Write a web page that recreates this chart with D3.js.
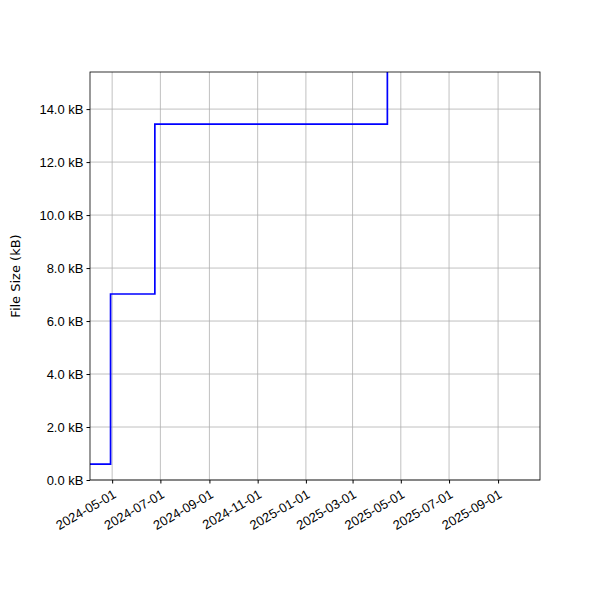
<!DOCTYPE html>
<html><head><meta charset="utf-8">
<script src="https://cdn.jsdelivr.net/npm/d3@7"></script>
<style>body{margin:0;background:#fff}svg{font-family:"DejaVu Sans",sans-serif}</style>
</head><body><svg id="c" width="600" height="600"></svg>
<script>
const dates = ["2024-04-03","2024-04-29","2024-06-24","2025-04-13","2025-04-14"];
const sizes = [0.6, 7.02, 13.43, 13.43, 20];
const tickDates = ["2024-05-01","2024-07-01","2024-09-01","2024-11-01","2025-01-01","2025-03-01","2025-05-01","2025-07-01","2025-09-01"];
const yTicks = [0,2,4,6,8,10,12,14];
const xDomain = ["2024-04-03","2025-10-24"];
const yMax = 15.4;

const p = d3.timeParse("%Y-%m-%d");
const m = {l:90, r:540, t:72, b:480};
const svg = d3.select("#c");
const x = d3.scaleTime().domain(xDomain.map(p)).range([m.l, m.r]);
const y = d3.scaleLinear().domain([0, yMax]).range([m.b, m.t]);

svg.append("g").selectAll("line").data(tickDates).join("line")
  .attr("x1", d=>x(p(d))).attr("x2", d=>x(p(d))).attr("y1", m.t).attr("y2", m.b)
  .attr("stroke", "#b0b0b0").attr("stroke-width", 0.8);
svg.append("g").selectAll("line").data(yTicks).join("line")
  .attr("y1", d=>y(d)).attr("y2", d=>y(d)).attr("x1", m.l).attr("x2", m.r)
  .attr("stroke", "#b0b0b0").attr("stroke-width", 0.8);

svg.append("clipPath").attr("id","clip").append("rect")
  .attr("x", m.l).attr("y", m.t).attr("width", m.r-m.l).attr("height", m.b-m.t);

const pts = dates.map((d,i)=>[p(d), sizes[i]]);
const line = d3.line().x(d=>x(d[0])).y(d=>y(d[1])).curve(d3.curveStepAfter);
svg.append("path").datum(pts).attr("d", line).attr("fill","none")
  .attr("stroke","blue").attr("stroke-width",1.7).attr("clip-path","url(#clip)");

const xa = svg.append("g").attr("transform", `translate(0,${m.b})`)
  .call(d3.axisBottom(x).tickValues(tickDates.map(p)).tickFormat(d3.timeFormat("%Y-%m-%d")).tickSizeOuter(0).tickSize(3.5));
xa.selectAll("text").attr("font-size", 13).attr("text-anchor","end")
  .attr("y", 0).attr("dy", "0.35em").attr("dx", 0)
  .attr("transform","translate(2,13) rotate(-30)");
const ya = svg.append("g").attr("transform", `translate(${m.l},0)`)
  .call(d3.axisLeft(y).tickValues(yTicks).tickFormat(d=>d.toFixed(1)+" kB").tickSizeOuter(0).tickSize(3.5));
ya.selectAll("text").attr("font-size", 13);
[xa, ya].forEach(a=>{a.select(".domain").remove(); a.selectAll("line").attr("stroke","#000");});
svg.append("rect").attr("x",m.l).attr("y",m.t).attr("width",m.r-m.l).attr("height",m.b-m.t)
  .attr("fill","none").attr("stroke","#000").attr("stroke-width",0.8);
svg.append("text").attr("transform",`translate(20,${(m.t+m.b)/2}) rotate(-90)`)
  .attr("text-anchor","middle").attr("font-size",13).text("File Size (kB)");
</script></body></html>
